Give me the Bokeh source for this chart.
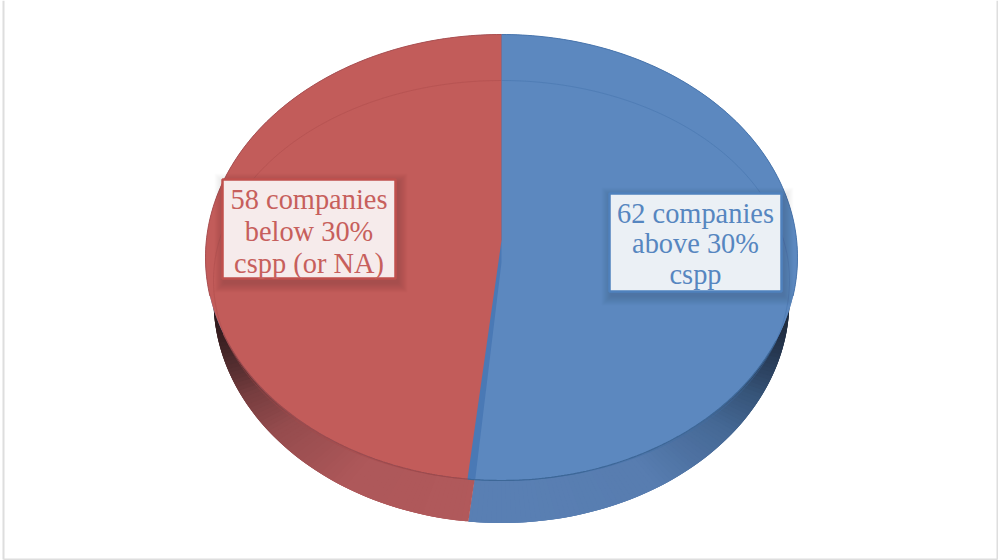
import numpy as np
from bokeh.plotting import figure
from bokeh.core.properties import value
from bokeh.embed import file_html
from bokeh.resources import INLINE

# Data
categories = ["above 30% cspp", "below 30% cspp (or NA)"]
companies = [62, 58]
labels = [["62 companies", "above 30%", "cspp"], ["58 companies", "below 30%", "cspp (or NA)"]]

# Style / layout
TOP_BLUE, STRIP_BLUE, TOP_RED = "#5c88bf", "#4a79b5", "#c25c5a"
FACE = dict(cx=501, cy=257, rx=296, ry=223)
BASE = dict(cx=501, cy=299.5, rx=288, ry=223)
RIM = dict(cx=501, cy=280, rx=288, ry=200)
APEX_RED_Y, APEX_BLUE_Y = 240, 262
PERSPECTIVE_TILT = 0.6  # degrees: the 3D view moves the front seam a little to the left
BOXES = [dict(l=609, r=781, t=193, b=291, cx=695, ys=[213, 243, 274], edge="#4f81bd", fill="#ebf0f5"),
         dict(l=222, r=395, t=179, b=278, cx=308.5, ys=[199, 231, 263], edge="#c0504d", fill="#f6ebeb")]
TEXT_COLORS = ["#5686c0", "#c75f5c"]
PAGE_EDGE = "#dedede"

def pts(e, deg):
    t = np.radians(deg)
    return e["cx"] + e["rx"] * np.sin(t), e["cy"] - e["ry"] * np.cos(t)

split = 360 * companies[0] / sum(companies) + PERSPECTIVE_TILT

p = figure(width=998, height=560, x_range=(0, 998), y_range=(560, 0),
           output_backend="svg", toolbar_location=None, min_border=0)
p.axis.visible = False
p.grid.visible = False
p.outline_line_color = None
p.background_fill_color = "white"

# thin page frame of the screenshot
p.line([3, 3], [0, 559], line_color=PAGE_EDGE, line_width=2)
p.line([997, 997], [0, 559], line_color=PAGE_EDGE, line_width=2)
p.line([3, 997], [559, 559], line_color=PAGE_EDGE, line_width=2)

# extruded side: gradient by horizontal distance from centre
stops = [0, .55, .8, .9, .96, 1]
side_stops = {
    0: [(90, 128, 180), (88, 125, 176), (70, 105, 150), (55, 85, 122), (42, 62, 90), (30, 42, 60)],
    1: [(178, 90, 92), (174, 88, 90), (150, 76, 78), (120, 62, 64), (80, 44, 46), (45, 25, 27)],
}
xs, ys, cols = [], [], []
angles = np.unique(np.append(np.arange(60, 300.01, 1.0), split))
for a0, a_next in zip(angles[:-1], angles[1:]):
    mid = (a0 + a_next) / 2
    s = 0 if mid < split else 1
    # each sliver overlaps the next one so that no seams show
    a1 = min(a0 + 3, split) if s == 0 else a0 + 3
    u = abs(np.sin(np.radians(mid)))
    rgb = [int(np.interp(u, stops, [c[i] for c in side_stops[s]])) for i in range(3)]
    x0, y0 = pts(BASE, a0)
    x1, y1 = pts(BASE, a1)
    xs.append([BASE["cx"], x0, x1])
    ys.append([BASE["cy"], y0, y1])
    cols.append("#%02x%02x%02x" % tuple(rgb))
p.patches(xs, ys, fill_color=cols, line_color=None)

# top face
d = np.arange(0, 360.01, 1)
fx, fy = pts(FACE, d)
p.patch(fx, fy, fill_color=STRIP_BLUE, line_color=None)

d_blue = np.linspace(0, split - 1.5, 200)
bx, by = pts(FACE, d_blue)
p.patch(list(bx) + [FACE["cx"]], list(by) + [APEX_BLUE_Y], fill_color=TOP_BLUE, line_color=None)

d_red = np.linspace(split, 360, 200)
rx_, ry_ = pts(FACE, d_red)
p.patch(list(rx_) + [FACE["cx"]], list(ry_) + [APEX_RED_Y], fill_color=TOP_RED, line_color=None)

# faint rim ellipse
d1 = np.linspace(0, split, 200)
x1_, y1_ = pts(RIM, d1)
p.line(x1_, y1_, line_color="#3f6ea8", line_alpha=0.4, line_width=1)
x2_, y2_ = pts(RIM, d_red)
p.line(x2_, y2_, line_color="#a84848", line_alpha=0.4, line_width=1)

# stronger front edge
d3 = np.linspace(112, split, 120)
x3, y3 = pts(FACE, d3)
p.line(x3, y3, line_color="#3d6797", line_width=1.2)
d4 = np.linspace(split, 250, 120)
x4, y4 = pts(FACE, d4)
p.line(x4, y4, line_color="#9c4a4d", line_width=1.2)

# outer top edges
x5, y5 = pts(FACE, np.linspace(0, 100, 100))
p.line(x5, y5, line_color="#4a76ad", line_width=1)
x6, y6 = pts(FACE, np.linspace(260, 360, 100))
p.line(x6, y6, line_color="#ad5050", line_width=1)

# the seam between the two wedges, back half
p.line([FACE["cx"], FACE["cx"]], [FACE["cy"] - FACE["ry"], APEX_RED_Y],
       line_color="#7d6a8a", line_alpha=0.7, line_width=1)

# labels with soft shadow
for box, lines, tc in zip(BOXES, labels, TEXT_COLORS):
    for k in range(10, 0, -1):
        p.quad(left=box["l"] + 2 - k, right=box["r"] + 2 + k,
               top=box["t"] + 4 - k, bottom=box["b"] + 4 + k,
               fill_color="#202020", fill_alpha=0.012, line_color=None)
    p.quad(left=box["l"], right=box["r"], top=box["t"], bottom=box["b"],
           fill_color=box["fill"], line_color=box["edge"], line_width=2.5)
    p.text(x=[box["cx"]] * len(lines), y=box["ys"], text=lines,
           text_font=value("Liberation Serif"), text_font_size="28.4px",
           text_color=tc, text_align="center", text_baseline="middle")

open("out.html", "w").write(file_html(p, INLINE))
